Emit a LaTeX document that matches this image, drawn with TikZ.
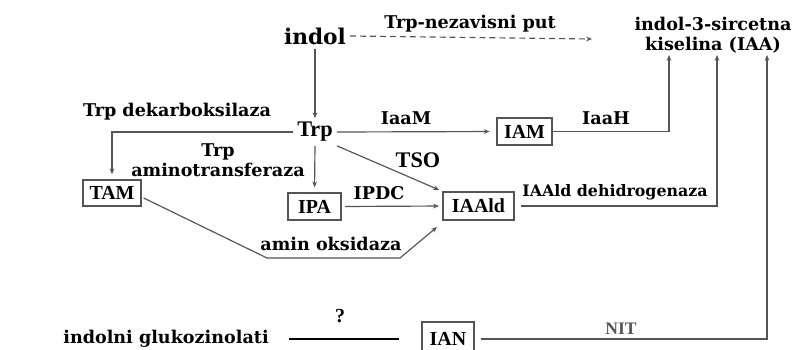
\documentclass[tikz,border=0pt]{standalone}
\usepackage{fontspec}
\setmainfont{Liberation Serif}
\newfontfamily\lblfont{DejaVu Serif}
\usetikzlibrary{arrows.meta, positioning}
\definecolor{linegray}{RGB}{85,85,85}

\begin{document}
\begin{tikzpicture}[
                x=0.3mm, y=-0.3mm,
                >={Stealth[length=5pt,width=4pt]},
                line/.style={draw=linegray, line width=1pt},
                box/.style={draw=linegray, line width=1.2pt, inner sep=0pt,
                    font=\fontsize{17}{20}\selectfont\bfseries},
                enz/.style={font=\lblfont\fontsize{15}{17}\selectfont\bfseries, inner sep=1pt},
                big/.style={font=\fontsize{19}{22}\selectfont\bfseries}
            ]
            \fill[white] (0,0) rectangle (798,349);
            \useasboundingbox (0,0) rectangle (798,349);
            \clip (0,0) rectangle (798,349);

            \node[font=\lblfont\fontsize{18.5}{20}\selectfont\bfseries] (indol) at (315,36) {indol};
            \node[enz] (nezav) at (470,24) {Trp-nezavisni put};
            \node[enz, align=center] (iaa) at (713,35) {indol-3-sircetna\\kiselina (IAA)};
            \node[big] (trp) at (315,132) {Trp};
            \node[enz] (dekarb) at (177,112) {Trp dekarboksilaza};
            \node[enz, align=center] (aminotr) at (218,160) {Trp\\aminotransferaza};
            \node[enz] (iaam) at (406,118) {IaaM};
            \node[enz] (iaah) at (606,118) {IaaH};
            \node[big] (tso) at (418,160) {TSO};
            \node[enz] (ipdc) at (379,193) {IPDC};
            \node[enz, font=\lblfont\fontsize{13.5}{16}\selectfont\bfseries] (dehidr) at (615,192) {IAAld dehidrogenaza};
            \node[enz] (aminoks) at (331,244) {amin oksidaza};
            \node[big, font=\fontsize{17}{20}\selectfont\bfseries] (upit) at (340,316) {?};
            \node[enz] (gluko) at (166,339) {indolni glukozinolati};
            \node[font=\fontsize{15}{17}\selectfont\bfseries, text=linegray] (nit) at (621,329) {NIT};

            \node[box, minimum width=16.5mm, minimum height=8.1mm] (iam) at (524.5,131.5) {IAM};
            \node[box, minimum width=17.4mm, minimum height=7.8mm] (tam) at (112,193) {TAM};
            \node[box, minimum width=15.9mm, minimum height=8.1mm] (ipa) at (314.5,206.5) {IPA};
            \node[box, minimum width=21.3mm, minimum height=8.4mm] (iaald) at (478.5,206) {IAAld};
            \node[box, minimum width=15.6mm, minimum height=10.2mm] (ian) at (448,339) {IAN};

            \coordinate (iaa1) at (669,55);
            \coordinate (iaa2) at (717,55);
            \coordinate (iaa3) at (767,55);
            \coordinate (nezend) at (592,39);
            \coordinate (oks1) at (267,258);
            \coordinate (oks2) at (400,258);
            \coordinate (oksend) at (437,227);

            \draw[line, ->, dashed, dash pattern=on 5pt off 3.5pt] (indol.east) -- (nezend);
            \draw[line, ->] (indol.south) -- (indol.south |- trp.north);
            \draw[line, ->, shorten >=1.5mm] (trp.west) -| (tam.north);
            \draw[line, ->, shorten >=2mm] (trp.east) -- (iam.west);
            \draw[line, ->] (iam.east) -| (iaa1);
            \draw[line, ->, shorten >=1.5mm] (trp.south) -- (ipa.north);
            \draw[line, ->, shorten >=1mm] (trp.south east) -- (iaald.north west);
            \draw[line, ->, shorten <=1mm, shorten >=1mm] (ipa.east) -- (iaald.west);
            \draw[line, ->, shorten <=2mm] (iaald.east) -| (iaa2);
            \draw[line, ->] (tam.east) ++(2,5) -- (oks1) -- (oks2) -- (oksend);
            \draw[line width=2pt, shorten <=5.7mm, shorten >=6.6mm] (gluko.east) -- (gluko.east -| ian.west);
            \draw[line, ->, shorten <=1.8mm] (ian.east) -| (iaa3);
        \end{tikzpicture}
\end{document}
